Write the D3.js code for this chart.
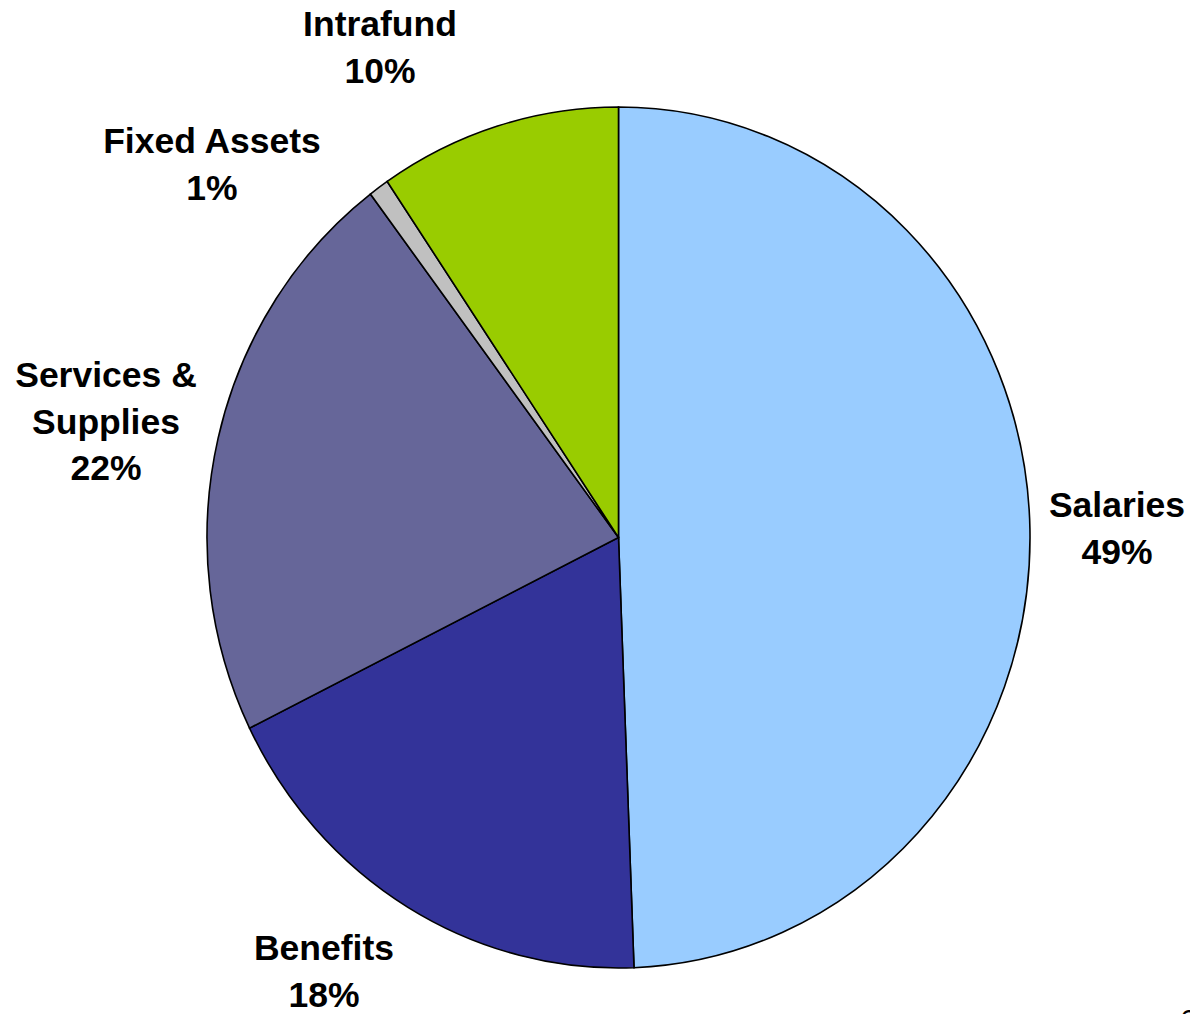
<!DOCTYPE html>
<html><head><meta charset="utf-8">
<script src="https://cdn.jsdelivr.net/npm/d3@7"></script>
<style>html,body{margin:0;padding:0;background:#fff;overflow:hidden}</style>
</head><body>
<svg id="c" width="1190" height="1014"></svg>
<script>
const categories = ["Salaries", "Benefits", "Services & Supplies", "Fixed Assets", "Intrafund"];
const values = [49.4, 18.3, 22.0, 0.8, 9.5];
const pctLabels = ["49%", "18%", "22%", "1%", "10%"];
const labelLines = [["Salaries"], ["Benefits"], ["Services &", "Supplies"], ["Fixed Assets"], ["Intrafund"]];
const colors = ["#99CCFF", "#333399", "#666699", "#C0C0C0", "#99CC00"];
const labelPos = [[1117, 517], [324, 960], [106, 387], [212, 153], [380, 36]];

const svg = d3.select("#c");
const cx = 618.5, cy = 537.5, rx = 411.5, ry = 430.5;
const pie = d3.pie().sort(null).value(d => d)(values);
const arc = d3.arc().innerRadius(0).outerRadius(rx);
const g = svg.append("g").attr("transform", `translate(${cx},${cy}) scale(1,${ry/rx})`);
g.selectAll("path").data(pie).join("path")
  .attr("d", arc)
  .attr("fill", (d,i) => colors[i])
  .attr("stroke", "#000")
  .attr("stroke-width", 1.6)
  .attr("vector-effect", "non-scaling-stroke");

const lh = 46.7;
categories.forEach((c, i) => {
  const lines = labelLines[i].concat([pctLabels[i]]);
  const t = svg.append("text")
    .attr("text-anchor", "middle")
    .attr("font-family", "'Liberation Sans', Arial, sans-serif")
    .attr("font-weight", "bold")
    .attr("font-size", 35.5)
    .attr("fill", "#000");
  lines.forEach((l, j) => {
    t.append("tspan").attr("x", labelPos[i][0]).attr("y", labelPos[i][1] + j*lh).text(l);
  });
});

svg.append("text").attr("x", 1180).attr("y", 1030)
  .attr("font-family", "'Liberation Sans', Arial, sans-serif")
  .attr("font-size", 30).attr("fill", "#000").text("6");
</script>
</body></html>
